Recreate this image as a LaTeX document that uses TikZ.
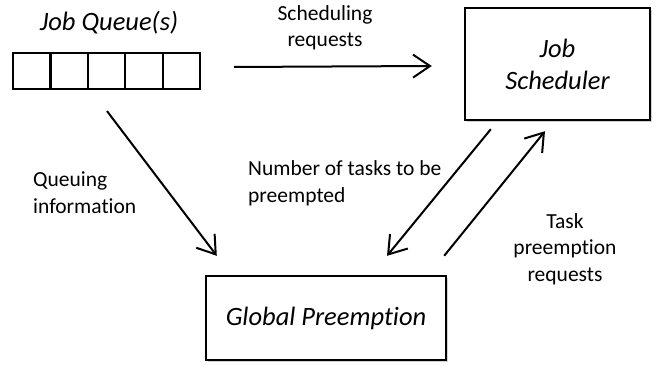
\documentclass[tikz,border=0pt]{standalone}
\usepackage{fontspec}
\setmainfont{Carlito}[Ligatures=NoCommon]
\usetikzlibrary{arrows.meta,shadows}
\tikzset{
  cell/.style={draw,line width=2.2pt,minimum width=37.4pt,minimum height=36pt,inner sep=0pt},
  box/.style={draw,line width=2.4pt,fill=white,inner sep=0pt,align=center,
    font=\fontsize{26.5}{32}\selectfont\itshape,
    drop shadow={opacity=0.35,shadow xshift=2pt,shadow yshift=-2pt}},
  lbl/.style={inner sep=0pt,font=\fontsize{21.5}{26.5}\selectfont},
  arr/.style={line width=2pt,-{Straight Barb[length=17pt,width=23pt]}}
}
\begin{document}
\begin{tikzpicture}[x=1pt,y=1pt]
 \useasboundingbox (0,0) rectangle (660,366);
 % queue
 \node[inner sep=0pt,font=\fontsize{26.5}{32}\selectfont\itshape] (qtitle) at (109,343) {Job Queue(s)};
 \foreach \i in {1,...,5}
   \node[cell] (q\i) at ({13+37.4*(\i-0.5)},295) {};
 % boxes
 \node[box,minimum width=185pt,minimum height=112pt] (js) at (557.5,302) {Job\\Scheduler};
 \node[box,minimum width=240pt,minimum height=84pt] (gp) at (326,48) {Global Preemption};
 % arrows
 \draw[arr] ([xshift=33pt,yshift=4pt]q5.east) -- ([xshift=-32pt,yshift=-2pt]js.west);
 \draw[arr] ([xshift=0.5pt,yshift=-21pt]q3.south) -- ([xshift=12pt,yshift=19pt]gp.north west);
 \draw[arr] ([xshift=27pt,yshift=-8pt]js.south west) -- ([xshift=61pt,yshift=19pt]gp.north);
 \draw[arr] ([xshift=-3pt,yshift=19pt]gp.north east) -- ([xshift=-12.5pt,yshift=-10pt]js.south);
 % labels
 \node[lbl,align=center] (lsched) at (325,338) {Scheduling\\requests};
 \node[lbl,align=left,anchor=west] (lqueue) at (33,173.5) {Queuing\\information};
 \node[lbl,align=left,anchor=west] (lnum) at (248,182.5) {Number of tasks to be\\preempted};
 \node[lbl,align=center] (ltask) at (565,117) {Task\\preemption\\requests};
\end{tikzpicture}
\end{document}
